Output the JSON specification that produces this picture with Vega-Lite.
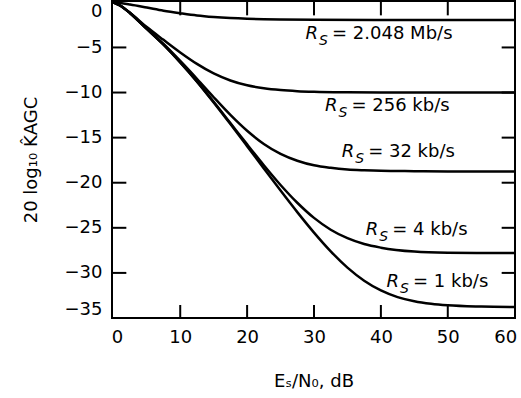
{
  "$schema": "https://vega.github.io/schema/vega-lite/v6.json",
  "width": 403,
  "height": 317,
  "autosize": "none",
  "padding": {"left": 112, "top": 1, "right": 6, "bottom": 80},
  "background": "white",
  "config": {
    "view": {"stroke": "black", "strokeWidth": 2, "strokeOpacity": 1},
    "axis": {
      "grid": false,
      "domain": false,
      "ticks": false,
      "labelFont": "DejaVu Sans",
      "labelFontSize": 18,
      "labelColor": "black",
      "titleFont": "DejaVu Sans",
      "titleFontSize": 18,
      "titleFontWeight": "normal",
      "titleColor": "black"
    },
    "text": {"font": "DejaVu Sans", "color": "black"}
  },
  "datasets": {
    "curves": [
      {"series": "2.048 Mb/s", "x": 0, "y": 0},
      {"series": "2.048 Mb/s", "x": 1, "y": -0.08},
      {"series": "2.048 Mb/s", "x": 2.5, "y": -0.25},
      {"series": "2.048 Mb/s", "x": 5, "y": -0.58},
      {"series": "2.048 Mb/s", "x": 7.5, "y": -0.92},
      {"series": "2.048 Mb/s", "x": 10, "y": -1.2},
      {"series": "2.048 Mb/s", "x": 12.5, "y": -1.45},
      {"series": "2.048 Mb/s", "x": 15, "y": -1.62},
      {"series": "2.048 Mb/s", "x": 17.5, "y": -1.74},
      {"series": "2.048 Mb/s", "x": 20, "y": -1.82},
      {"series": "2.048 Mb/s", "x": 22.5, "y": -1.87},
      {"series": "2.048 Mb/s", "x": 25, "y": -1.9},
      {"series": "2.048 Mb/s", "x": 30, "y": -1.93},
      {"series": "2.048 Mb/s", "x": 40, "y": -1.95},
      {"series": "2.048 Mb/s", "x": 60, "y": -1.95},
      {"series": "256 kb/s", "x": 0, "y": 0},
      {"series": "256 kb/s", "x": 1, "y": -0.35},
      {"series": "256 kb/s", "x": 2.5, "y": -1.16},
      {"series": "256 kb/s", "x": 5, "y": -2.74},
      {"series": "256 kb/s", "x": 7.5, "y": -4.16},
      {"series": "256 kb/s", "x": 10, "y": -5.55},
      {"series": "256 kb/s", "x": 12.5, "y": -6.82},
      {"series": "256 kb/s", "x": 15, "y": -7.88},
      {"series": "256 kb/s", "x": 17.5, "y": -8.66},
      {"series": "256 kb/s", "x": 20, "y": -9.2},
      {"series": "256 kb/s", "x": 22.5, "y": -9.53},
      {"series": "256 kb/s", "x": 25, "y": -9.73},
      {"series": "256 kb/s", "x": 27.5, "y": -9.85},
      {"series": "256 kb/s", "x": 30, "y": -9.92},
      {"series": "256 kb/s", "x": 35, "y": -9.98},
      {"series": "256 kb/s", "x": 40, "y": -10},
      {"series": "256 kb/s", "x": 60, "y": -10},
      {"series": "32 kb/s", "x": 0, "y": 0},
      {"series": "32 kb/s", "x": 1, "y": -0.35},
      {"series": "32 kb/s", "x": 2.5, "y": -1.19},
      {"series": "32 kb/s", "x": 5, "y": -2.92},
      {"series": "32 kb/s", "x": 7.5, "y": -4.62},
      {"series": "32 kb/s", "x": 10, "y": -6.5},
      {"series": "32 kb/s", "x": 12.5, "y": -8.48},
      {"series": "32 kb/s", "x": 15, "y": -10.52},
      {"series": "32 kb/s", "x": 17.5, "y": -12.48},
      {"series": "32 kb/s", "x": 20, "y": -14.24},
      {"series": "32 kb/s", "x": 22.5, "y": -15.7},
      {"series": "32 kb/s", "x": 25, "y": -16.8},
      {"series": "32 kb/s", "x": 27.5, "y": -17.56},
      {"series": "32 kb/s", "x": 30, "y": -18.07},
      {"series": "32 kb/s", "x": 32.5, "y": -18.35},
      {"series": "32 kb/s", "x": 35, "y": -18.53},
      {"series": "32 kb/s", "x": 37.5, "y": -18.62},
      {"series": "32 kb/s", "x": 40, "y": -18.68},
      {"series": "32 kb/s", "x": 45, "y": -18.72},
      {"series": "32 kb/s", "x": 50, "y": -18.75},
      {"series": "32 kb/s", "x": 60, "y": -18.75},
      {"series": "4 kb/s", "x": 0, "y": 0},
      {"series": "4 kb/s", "x": 1, "y": -0.35},
      {"series": "4 kb/s", "x": 2.5, "y": -1.2},
      {"series": "4 kb/s", "x": 5, "y": -2.95},
      {"series": "4 kb/s", "x": 7.5, "y": -4.69},
      {"series": "4 kb/s", "x": 10, "y": -6.65},
      {"series": "4 kb/s", "x": 12.5, "y": -8.76},
      {"series": "4 kb/s", "x": 15, "y": -11.03},
      {"series": "4 kb/s", "x": 17.5, "y": -13.39},
      {"series": "4 kb/s", "x": 20, "y": -15.75},
      {"series": "4 kb/s", "x": 22.5, "y": -18.06},
      {"series": "4 kb/s", "x": 25, "y": -20.25},
      {"series": "4 kb/s", "x": 27.5, "y": -22.22},
      {"series": "4 kb/s", "x": 30, "y": -23.9},
      {"series": "4 kb/s", "x": 32.5, "y": -25.21},
      {"series": "4 kb/s", "x": 35, "y": -26.15},
      {"series": "4 kb/s", "x": 37.5, "y": -26.8},
      {"series": "4 kb/s", "x": 40, "y": -27.2},
      {"series": "4 kb/s", "x": 45, "y": -27.63},
      {"series": "4 kb/s", "x": 50, "y": -27.76},
      {"series": "4 kb/s", "x": 55, "y": -27.79},
      {"series": "4 kb/s", "x": 60, "y": -27.8},
      {"series": "1 kb/s", "x": 0, "y": 0},
      {"series": "1 kb/s", "x": 1, "y": -0.35},
      {"series": "1 kb/s", "x": 2.5, "y": -1.2},
      {"series": "1 kb/s", "x": 5, "y": -2.95},
      {"series": "1 kb/s", "x": 7.5, "y": -4.7},
      {"series": "1 kb/s", "x": 10, "y": -6.66},
      {"series": "1 kb/s", "x": 12.5, "y": -8.79},
      {"series": "1 kb/s", "x": 15, "y": -11.1},
      {"series": "1 kb/s", "x": 17.5, "y": -13.5},
      {"series": "1 kb/s", "x": 20, "y": -15.95},
      {"series": "1 kb/s", "x": 22.5, "y": -18.42},
      {"series": "1 kb/s", "x": 25, "y": -20.87},
      {"series": "1 kb/s", "x": 27.5, "y": -23.26},
      {"series": "1 kb/s", "x": 30, "y": -25.53},
      {"series": "1 kb/s", "x": 32.5, "y": -27.61},
      {"series": "1 kb/s", "x": 35, "y": -29.41},
      {"series": "1 kb/s", "x": 37.5, "y": -30.86},
      {"series": "1 kb/s", "x": 40, "y": -31.94},
      {"series": "1 kb/s", "x": 42.5, "y": -32.68},
      {"series": "1 kb/s", "x": 45, "y": -33.14},
      {"series": "1 kb/s", "x": 47.5, "y": -33.42},
      {"series": "1 kb/s", "x": 50, "y": -33.59},
      {"series": "1 kb/s", "x": 55, "y": -33.73},
      {"series": "1 kb/s", "x": 60, "y": -33.78}
    ],
    "labels": [
      {"x": 32.7, "y": -4.1, "r": "R", "s": "S", "t": "= 2.048 Mb/s"},
      {"x": 35.6, "y": -12.1, "r": "R", "s": "S", "t": "= 256 kb/s"},
      {"x": 38.1, "y": -17.1, "r": "R", "s": "S", "t": "= 32 kb/s"},
      {"x": 41.7, "y": -25.8, "r": "R", "s": "S", "t": "= 4 kb/s"},
      {"x": 44.8, "y": -31.6, "r": "R", "s": "S", "t": "= 1 kb/s"}
    ],
    "xticks": [
      {"x": 10, "y": -35}, {"x": 20, "y": -35}, {"x": 30, "y": -35}, {"x": 40, "y": -35}, {"x": 50, "y": -35},
      {"x": 10, "y": 0}, {"x": 20, "y": 0}, {"x": 30, "y": 0}, {"x": 40, "y": 0}, {"x": 50, "y": 0}
    ],
    "yticks": [
      {"x": 0, "y": -5}, {"x": 0, "y": -10}, {"x": 0, "y": -15}, {"x": 0, "y": -20}, {"x": 0, "y": -25}, {"x": 0, "y": -30},
      {"x": 60, "y": -5}, {"x": 60, "y": -10}, {"x": 60, "y": -15}, {"x": 60, "y": -20}, {"x": 60, "y": -25}, {"x": 60, "y": -30}
    ]
  },
  "encoding": {
    "x": {
      "field": "x", "type": "quantitative",
      "scale": {"domain": [-0.2, 60.05], "nice": false, "zero": false},
      "axis": {
        "orient": "bottom", "values": [0, 10, 20, 30, 40, 50, 60], "format": "d",
        "labelPadding": 10, "labelFlush": 5, "labelFlushOffset": 2,
        "title": "Eₛ/N₀, dB", "titlePadding": 26
      }
    },
    "y": {
      "field": "y", "type": "quantitative",
      "scale": {"domain": [-35, 0.15], "nice": false, "zero": false},
      "axis": {
        "orient": "left", "values": [-35, -30, -25, -20, -15, -10, -5, 0], "format": "d",
        "labelPadding": 10, "labelFlush": 5,
        "title": "20 log₁₀ K̂AGC", "titlePadding": 24
      }
    }
  },
  "layer": [
    {
      "data": {"name": "curves"},
      "mark": {"type": "line", "color": "black", "strokeWidth": 2.5, "interpolate": "monotone", "clip": true},
      "encoding": {"detail": {"field": "series"}}
    },
    {
      "data": {"name": "xticks"},
      "mark": {"type": "tick", "orient": "vertical", "size": 26, "thickness": 2, "color": "black", "opacity": 1, "clip": true}
    },
    {
      "data": {"name": "yticks"},
      "mark": {"type": "tick", "orient": "horizontal", "size": 26, "thickness": 2, "color": "black", "opacity": 1, "clip": true}
    },
    {
      "data": {"name": "labels"},
      "mark": {"type": "text", "align": "left", "baseline": "alphabetic", "fontSize": 18},
      "encoding": {"text": {"field": "t"}}
    },
    {
      "data": {"name": "labels"},
      "mark": {"type": "text", "align": "right", "baseline": "alphabetic", "fontSize": 18, "fontStyle": "italic", "dx": -14},
      "encoding": {"text": {"field": "r"}}
    },
    {
      "data": {"name": "labels"},
      "mark": {"type": "text", "align": "left", "baseline": "alphabetic", "fontSize": 14, "fontStyle": "italic", "dx": -13, "dy": 6},
      "encoding": {"text": {"field": "s"}}
    }
  ]
}
